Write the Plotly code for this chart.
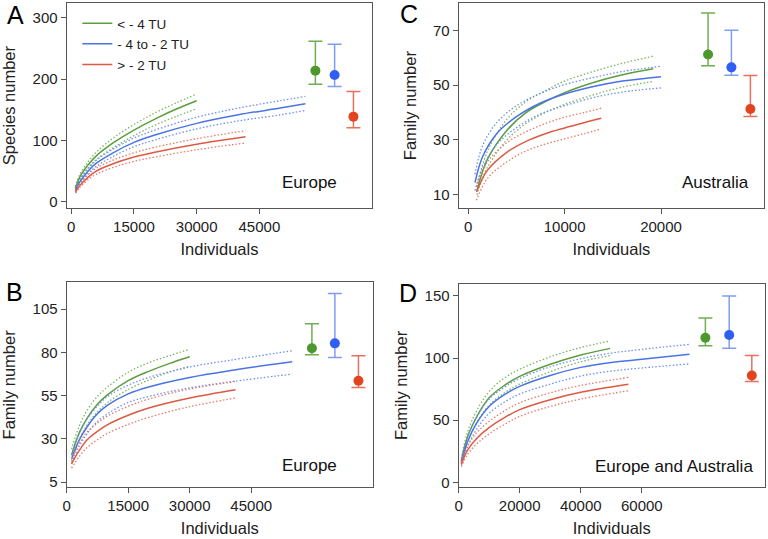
import plotly.graph_objects as go
from plotly.subplots import make_subplots

GROUPS = ["< - 4 TU", "- 4 to - 2 TU", "> - 2 TU"]

# --- Panel A: Europe, species ---
A_GREEN_X = [1000, 2000, 4000, 6000, 10000, 15000, 20000, 25000, 30000]
A_GREEN_MEAN = [22, 40, 60, 75, 96, 117, 135, 151, 165]
A_GREEN_LO = [20, 36, 55, 69, 88, 108, 125, 139, 152]
A_GREEN_HI = [25, 44, 65, 81, 104, 126, 145, 161, 176]

A_BLUE_X = [1000, 2000, 4000, 6000, 10000, 15000, 20000, 30000, 40000, 50000, 56000]
A_BLUE_MEAN = [19, 32, 50, 63, 80, 97, 109, 128, 142, 153, 160]
A_BLUE_LO = [17, 29, 46, 58, 74, 90, 101, 119, 132, 142, 149]
A_BLUE_HI = [21, 35, 54, 68, 86, 104, 117, 138, 153, 165, 172]

A_RED_X = [1000, 2000, 4000, 6000, 10000, 15000, 20000, 30000, 41700]
A_RED_MEAN = [16, 26, 40, 50, 62, 73, 81, 94, 106]
A_RED_LO = [14, 23, 36, 45, 56, 66, 73, 85, 96]
A_RED_HI = [18, 29, 44, 55, 68, 80, 89, 103, 116]

A_EST = [214, 207, 139]
A_EST_LO = [192, 188, 121]
A_EST_HI = [262, 257, 180]

# --- Panel B: Europe, families ---
B_GREEN_X = [1200, 3000, 5000, 7500, 10000, 15000, 20000, 25000, 30000]
B_GREEN_MEAN = [20.4, 33, 42, 50, 55.5, 63.6, 69, 73.5, 77.4]
B_GREEN_LO = [17, 29, 38, 45.5, 51, 58.5, 64, 68.5, 72]
B_GREEN_HI = [24, 37, 46.5, 54.5, 60, 68.5, 74, 78, 81.8]

B_BLUE_X = [1200, 3000, 5000, 7500, 10000, 15000, 20000, 30000, 40000, 55000]
B_BLUE_MEAN = [18.4, 29, 37, 44.5, 49.5, 56, 60, 65.5, 69.5, 74.5]
B_BLUE_LO = [16, 25.5, 33, 40, 44.5, 51, 54.5, 59.5, 63, 67.4]
B_BLUE_HI = [21, 33, 41.5, 49, 54.5, 61, 65.5, 71.5, 75.5, 80.9]

B_RED_X = [1200, 3000, 5000, 7500, 10000, 15000, 20000, 30000, 41200]
B_RED_MEAN = [15.5, 23, 29.5, 34.3, 38.2, 43.6, 47.8, 53.6, 58.4]
B_RED_LO = [13, 19.5, 25, 29.5, 33.2, 38.3, 42.4, 48.6, 53.6]
B_RED_HI = [18, 27, 34, 39, 43.2, 48.8, 53, 58.8, 63.2]

B_EST = [82.4, 85.2, 63.6]
B_EST_LO = [78.6, 77, 59.7]
B_EST_HI = [96.6, 114, 78]

# --- Panel C: Australia, families ---
C_GREEN_X = [900, 2000, 4000, 6000, 8000, 10000, 13000, 16000, 19200]
C_GREEN_MEAN = [11.5, 23, 33.5, 40, 44, 47.3, 51, 53.8, 56]
C_GREEN_LO = [10, 20, 30, 36, 40, 43, 46.5, 49.3, 51.4]
C_GREEN_HI = [13, 26, 37.5, 44, 48, 51.5, 55, 58, 60.6]

C_BLUE_X = [700, 1500, 3000, 5000, 7500, 10000, 13000, 16000, 20000]
C_BLUE_MEAN = [14.5, 24, 32.5, 38.5, 43.5, 46.8, 49.5, 51.5, 53.1]
C_BLUE_LO = [11.5, 20, 28.5, 34.5, 39.5, 42.5, 45.5, 47.5, 49]
C_BLUE_HI = [17.5, 28, 36.5, 42.5, 47, 50.2, 52.8, 55, 56.9]

C_RED_X = [850, 2000, 4000, 6000, 8000, 10000, 12000, 13800]
C_RED_MEAN = [11, 19, 25.5, 29.5, 32.3, 34.4, 36.3, 37.9]
C_RED_LO = [8, 16, 22, 26, 28.5, 30.4, 32.3, 34]
C_RED_HI = [13, 22, 29, 33, 36, 38.3, 40, 41.6]

C_EST = [61.2, 56.5, 41.3]
C_EST_LO = [57.1, 53.6, 38.6]
C_EST_HI = [76.3, 70, 53.5]

# --- Panel D: Europe and Australia, families ---
D_GREEN_X = [900, 3000, 6000, 10000, 15000, 20000, 30000, 40000, 49600]
D_GREEN_MEAN = [17, 37, 53, 68, 78, 85.2, 95, 102.5, 107.8]
D_GREEN_LO = [15, 33, 48, 62, 72, 79, 89, 97, 102]
D_GREEN_HI = [19, 41, 58, 73, 84, 91, 101, 108.5, 113.7]

D_BLUE_X = [900, 3000, 6000, 10000, 15000, 20000, 30000, 40000, 50000, 60000, 75600]
D_BLUE_MEAN = [16, 33, 48, 61, 70.5, 77.2, 86, 92.5, 96.5, 99, 103]
D_BLUE_LO = [14, 29, 43, 55.5, 64.5, 71, 79, 85.5, 89.5, 92, 95.3]
D_BLUE_HI = [18, 37, 53, 67, 76.5, 83.5, 93, 99.5, 104, 107, 111]

D_RED_X = [900, 3000, 6000, 10000, 15000, 20000, 30000, 40000, 55600]
D_RED_MEAN = [14.6, 26, 35.5, 44, 52, 58.5, 66.5, 72.5, 79]
D_RED_LO = [12.5, 22.5, 31, 39, 46.5, 53, 61, 67, 73.7]
D_RED_HI = [16.5, 29.5, 40, 49, 57.5, 64, 72, 78, 84.4]

D_EST = [116.4, 118.5, 86]
D_EST_LO = [110, 107.8, 81.2]
D_EST_HI = [132.3, 149.9, 102]

LINE_COLORS = ["#5b9e3e", "#4a74e6", "#dc5a43"]
DOT_COLORS = ["#7db566", "#6f90ee", "#e57c6a"]
BAR_COLORS = ["#6fae52", "#7f9df2", "#e8705c"]
POINT_COLORS = ["#4d982c", "#2f5ff2", "#e2441f"]
FONT = "Liberation Sans, Arial, sans-serif"


def make_curve_traces(x, mean, lo, hi, i, show_legend):
    dotted = dict(color=DOT_COLORS[i], width=1.3, dash="1.5px,2px", shape="spline")
    return [
        go.Scatter(x=x, y=lo, mode="lines", line=dotted, showlegend=False),
        go.Scatter(x=x, y=hi, mode="lines", line=dotted, showlegend=False),
        go.Scatter(x=x, y=mean, mode="lines", name=GROUPS[i], showlegend=show_legend,
                   line=dict(color=LINE_COLORS[i], width=1.5, shape="spline")),
    ]


def make_estimate_traces(est_x, est, lo, hi):
    plots = []
    for i in range(3):
        plots.append(go.Scatter(
            x=[est_x[i]], y=[est[i]], mode="markers", showlegend=False,
            marker=dict(size=10, color=POINT_COLORS[i]),
            error_y=dict(type="data", symmetric=False,
                         array=[hi[i] - est[i]], arrayminus=[est[i] - lo[i]],
                         color=BAR_COLORS[i], thickness=1.5, width=7),
        ))
    return plots


panels = [
    # (row, col, curves, estimates, est x positions, legend?)
    (1, 1, [(A_GREEN_X, A_GREEN_MEAN, A_GREEN_LO, A_GREEN_HI),
            (A_BLUE_X, A_BLUE_MEAN, A_BLUE_LO, A_BLUE_HI),
            (A_RED_X, A_RED_MEAN, A_RED_LO, A_RED_HI)],
     (A_EST, A_EST_LO, A_EST_HI), [58400, 63000, 67500], True),
    (2, 1, [(B_GREEN_X, B_GREEN_MEAN, B_GREEN_LO, B_GREEN_HI),
            (B_BLUE_X, B_BLUE_MEAN, B_BLUE_LO, B_BLUE_HI),
            (B_RED_X, B_RED_MEAN, B_RED_LO, B_RED_HI)],
     (B_EST, B_EST_LO, B_EST_HI), [59800, 65400, 71150], False),
    (1, 2, [(C_GREEN_X, C_GREEN_MEAN, C_GREEN_LO, C_GREEN_HI),
            (C_BLUE_X, C_BLUE_MEAN, C_BLUE_LO, C_BLUE_HI),
            (C_RED_X, C_RED_MEAN, C_RED_LO, C_RED_HI)],
     (C_EST, C_EST_LO, C_EST_HI), [24880, 27300, 29270], False),
    (2, 2, [(D_GREEN_X, D_GREEN_MEAN, D_GREEN_LO, D_GREEN_HI),
            (D_BLUE_X, D_BLUE_MEAN, D_BLUE_LO, D_BLUE_HI),
            (D_RED_X, D_RED_MEAN, D_RED_LO, D_RED_HI)],
     (D_EST, D_EST_LO, D_EST_HI), [80800, 88600, 96000], False),
]

fig = make_subplots(rows=2, cols=2)

for row, col, curves, ests, est_x, legend in panels:
    for i, (x, mean, lo, hi) in enumerate(curves):
        for t in make_curve_traces(x, mean, lo, hi, i, legend):
            fig.add_trace(t, row=row, col=col)
    for t in make_estimate_traces(est_x, *ests):
        fig.add_trace(t, row=row, col=col)

axis_style = dict(showline=True, mirror=True, linecolor="#555555", linewidth=1,
                  ticks="outside", ticklen=5, tickcolor="#555555",
                  showgrid=False, zeroline=False, tickformat="d",
                  tickfont=dict(size=15, color="#222222", family=FONT),
                  title_font=dict(size=16.5, color="#222222", family=FONT))
fig.update_xaxes(**axis_style, title_standoff=9)
fig.update_yaxes(**axis_style, title_standoff=12)

# panel positions (paper) and axes
fig.update_xaxes(domain=[0.082, 0.482], range=[-1100, 72000],
                 tickvals=[0, 15000, 30000, 45000], title_text="Individuals", row=1, col=1)
fig.update_yaxes(domain=[0.612, 0.994], range=[-10, 324],
                 tickvals=[0, 100, 200, 300], title_text="Species number", row=1, col=1)
fig.update_xaxes(domain=[0.082, 0.483], range=[0, 74700],
                 tickvals=[0, 15000, 30000, 45000], title_text="Individuals", row=2, col=1)
fig.update_yaxes(domain=[0.091, 0.473], range=[2, 120.4],
                 tickvals=[5, 30, 55, 80, 105], title_text="Family number", row=2, col=1)
fig.update_xaxes(domain=[0.595, 0.995], range=[-1000, 30700],
                 tickvals=[0, 10000, 20000], title_text="Individuals", row=1, col=2)
fig.update_yaxes(domain=[0.612, 0.994], range=[5.2, 79.9],
                 tickvals=[10, 30, 50, 70], title_text="Family number", row=1, col=2)
fig.update_xaxes(domain=[0.595, 0.996], range=[0, 100300],
                 tickvals=[0, 20000, 40000, 60000], title_text="Individuals", row=2, col=2)
fig.update_yaxes(domain=[0.091, 0.471], range=[-4, 160],
                 tickvals=[0, 50, 100, 150], title_text="Family number", row=2, col=2)

notes = [("Europe", 0.4388, 0.6586), ("Australia", 0.9775, 0.6586),
         ("Europe", 0.4388, 0.1317), ("Europe and Australia", 0.9827, 0.1299)]
for text, x, y in notes:
    fig.add_annotation(text=text, x=x, y=y, xref="paper", yref="paper",
                       xanchor="right", yanchor="middle", showarrow=False,
                       font=dict(size=17, color="#111111", family=FONT))

letters = [("A", 0.0152, 0.972), ("C", 0.53, 0.974), ("B", 0.0143, 0.4545), ("D", 0.5286, 0.4527)]
for text, x, y in letters:
    fig.add_annotation(text=text, x=x, y=y, xref="paper", yref="paper",
                       xanchor="center", yanchor="middle", showarrow=False,
                       font=dict(size=25, color="#000000", family=FONT))

fig.update_layout(
    width=768, height=539,
    margin=dict(l=0, r=0, t=0, b=0),
    paper_bgcolor="white", plot_bgcolor="white",
    font=dict(family=FONT, color="#222222"),
    legend=dict(x=0.096, y=0.985, xanchor="left", yanchor="top",
                bgcolor="rgba(0,0,0,0)", font=dict(size=13.5, family=FONT),
                tracegroupgap=0),
)

fig.write_html("out.html", config={"displayModeBar": False},
               post_script="document.body.style.margin='0px';")
